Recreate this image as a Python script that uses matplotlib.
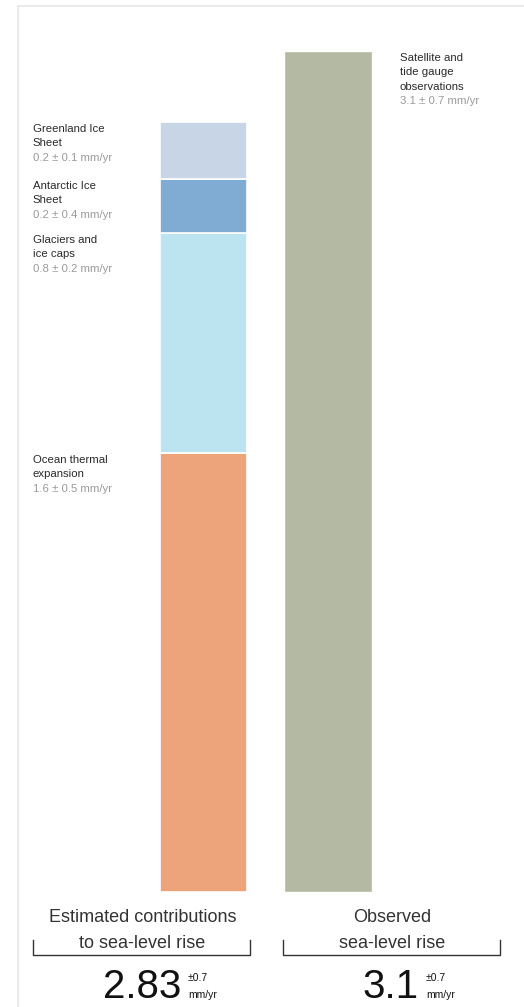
import matplotlib.pyplot as plt

# Contributions to sea-level rise (mm/yr), bottom to top
parts = ["Ocean thermal\nexpansion", "Glaciers and\nice caps", "Antarctic Ice\nSheet", "Greenland Ice\nSheet"]
part_values = [1.62, 0.81, 0.20, 0.21]
part_labels = ["1.6 ± 0.5 mm/yr", "0.8 ± 0.2 mm/yr", "0.2 ± 0.4 mm/yr", "0.2 ± 0.1 mm/yr"]
part_colors = ["#eda47b", "#bce4f0", "#80acd4", "#c8d5e6"]

observed_name = "Satellite and\ntide gauge\nobservations"
observed_value = 3.1
observed_label = "3.1 ± 0.7 mm/yr"
observed_color = "#b4b9a4"

group_titles = ["Estimated contributions\nto sea-level rise", "Observed\nsea-level rise"]
totals = ["2.83", "3.1"]
total_err = "±0.7"

W, H = 524, 1007
plt.rcParams['font.family'] = ['Liberation Sans', 'DejaVu Sans']
fig = plt.figure(figsize=(W / 100, H / 100), dpi=100)


def px(x, y):
    # pixel (from top-left) -> figure fraction
    return x / W, 1 - y / H


def label(ax, x, y, name, value):
    # one line per text so the spacing is fixed (14.5 px per line)
    lines = name.split("\n") + [value]
    for i, ln in enumerate(lines):
        col = "#9a9a9a" if i == len(lines) - 1 else "#2a2a2a"
        ax.annotate(ln, (x, y), xytext=(0, -(7 + 14.5 * i) * 0.72), textcoords="offset points",
                    va="center", ha="left", fontsize=8.2, color=col)


# light frame
fig.add_artist(plt.Line2D([18 / W, 18 / W], [0, 1 - 6 / H], color="#e6e6e6", lw=1.2))
fig.add_artist(plt.Line2D([18 / W, 1], [1 - 6 / H, 1 - 6 / H], color="#e6e6e6", lw=1.2))

ax = fig.add_axes([18 / W, (H - 892) / H, 506 / W, 841 / H])
ax.set_ylim(0, observed_value)
ax.set_xlim(-1.49, 2.574)
ax.axis("off")

# stacked estimate bar
bottom = 0
for name, v, lab, c in zip(parts, part_values, part_labels, part_colors):
    ax.bar(0, v, bottom=bottom, width=0.703, color=c, edgecolor="white", linewidth=1.2)
    top = bottom + v
    label(ax, -1.37, top, name, lab)
    bottom = top

# observed bar
ax.bar(1, observed_value, width=0.71, color=observed_color, edgecolor="white", linewidth=1.0)
label(ax, 1.578, observed_value, observed_name, observed_label)

# bottom group titles, brackets and totals
brackets = [(33, 250), (283, 500)]
num_right = [181, 419]
for (x0, x1), title, tot, nx in zip(brackets, group_titles, totals, num_right):
    cx = (x0 + x1) / 2 + 1
    for i, ln in enumerate(title.split("\n")):
        fig.text(*px(cx, 918 + 25 * i), ln, ha="center", va="center", fontsize=13, color="#333333")
    xs = [px(x0, 940)[0], px(x0, 955)[0], px(x1, 955)[0], px(x1, 940)[0]]
    ys = [px(x0, 940)[1], px(x0, 955)[1], px(x1, 955)[1], px(x1, 940)[1]]
    fig.add_artist(plt.Line2D(xs, ys, color="#333333", lw=1.0))
    fig.text(*px(nx, 998), tot, ha="right", va="baseline", fontsize=29, color="#111111")
    fig.text(*px(nx + 7, 981), total_err, ha="left", va="baseline", fontsize=7.5, color="#111111")
    fig.text(*px(nx + 7, 998), "mm/yr", ha="left", va="baseline", fontsize=7.5, color="#111111")

fig.savefig("out.png", dpi=100)
